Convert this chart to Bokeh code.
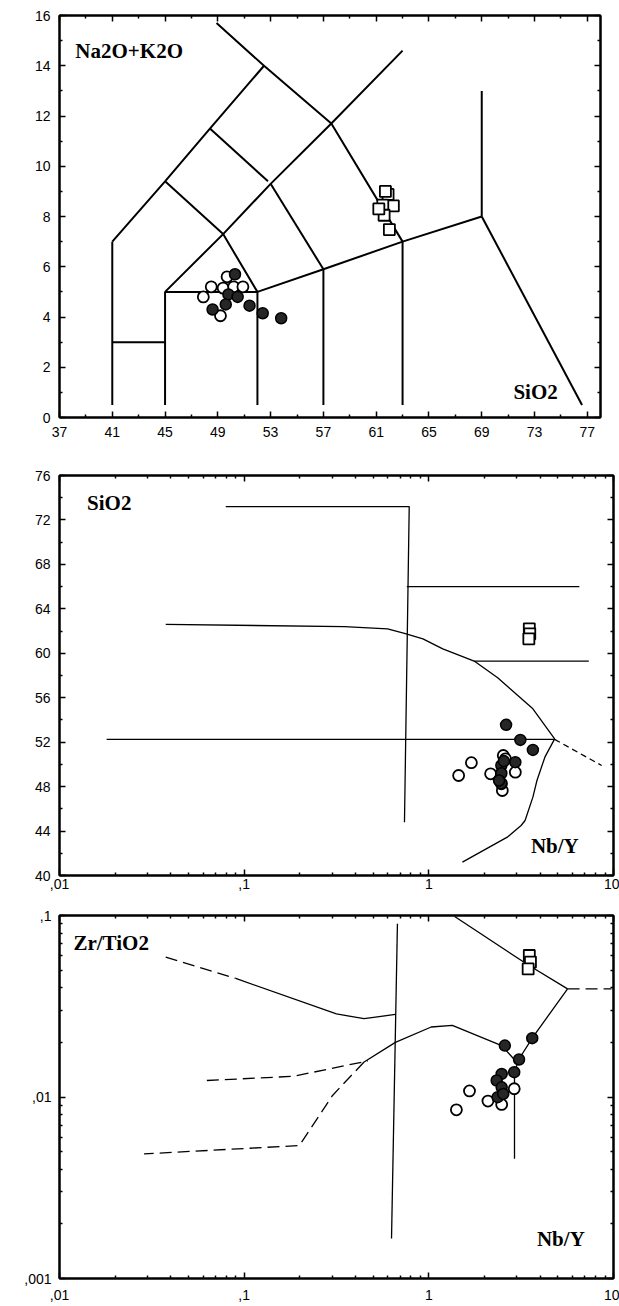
from bokeh.plotting import figure
from bokeh.models import FixedTicker, LinearAxis, LogAxis, CustomJSTickFormatter, Range1d
from bokeh.layouts import column
from bokeh.embed import file_html
from bokeh.resources import INLINE
from bokeh.core.properties import value

# ---------------- Panel 1: TAS diagram ----------------
tas_lines_x = [
    [41, 41], [41, 45], [45, 45, 52, 52], [57, 57], [63, 63],
    [52, 57, 63, 69], [69, 69], [69, 76.6],
    [41, 45, 48.4, 52.5], [45, 49.4, 53, 57.6, 63],
    [45, 49.4, 52], [48.4, 52.8], [53, 57], [48.9, 52.5, 57.6, 63],
]
tas_lines_y = [
    [0.5, 7], [3, 3], [0.5, 5, 5, 0.5], [0.5, 5.9], [0.5, 7],
    [5, 5.9, 7, 8], [8, 13], [8, 0.5],
    [7, 9.4, 11.5, 14], [5, 7.3, 9.3, 11.7, 14.6],
    [9.4, 7.3, 5], [11.5, 9.4], [9.3, 5.9], [15.7, 14, 11.7, 7],
]
p1_open_x = [47.9, 48.5, 49.4, 49.7, 50.2, 50.9, 49.2]
p1_open_y = [4.8, 5.2, 5.15, 5.6, 5.2, 5.2, 4.05]
p1_fill_x = [50.3, 49.8, 50.5, 49.6, 48.6, 51.4, 52.4, 53.8]
p1_fill_y = [5.7, 4.9, 4.8, 4.5, 4.3, 4.45, 4.15, 3.95]
p1_sq_x = [61.9, 62.3, 61.5, 61.6, 62.0, 61.2, 61.7]
p1_sq_y = [8.88, 8.42, 8.45, 8.05, 7.48, 8.3, 9.0]
p1_xticks = [37, 41, 45, 49, 53, 57, 61, 65, 69, 73, 77]
p1_xminor = [39, 43, 47, 51, 55, 59, 63, 67, 71, 75]
p1_yticks = [0, 2, 4, 6, 8, 10, 12, 14, 16]
p1_yminor = [1, 3, 5, 7, 9, 11, 13, 15]
p1_text = ["Na2O+K2O", "SiO2"]
p1_text_x = [38.2, 71.4]
p1_text_y = [14.6, 1.0]

# ---------------- Panel 2: SiO2 vs Nb/Y ----------------
p2_lines_x = [
    [0.0795, 0.783, 0.738],
    [0.76, 6.53],
    [1.76, 7.35],
    [0.0376, 0.349, 0.598, 0.738, 0.929, 1.19, 1.76, 2.36, 3.66, 4.8,
     4.25, 3.85, 3.66, 3.32, 3.16, 2.66, 1.52],
    [0.018, 4.8],
]
p2_lines_y = [
    [73.2, 73.2, 44.8],
    [66, 66],
    [59.3, 59.3],
    [62.6, 62.4, 62.2, 61.8, 61.3, 60.4, 59.3, 57.8, 55.0, 52.3,
     50.65, 48.55, 47.05, 44.95, 44.5, 43.45, 41.2],
    [52.25, 52.25],
]
p2_dash_x = [[4.8, 8.63]]
p2_dash_y = [[52.25, 49.9]]
p2_open_x = [1.45, 1.70, 2.16, 2.53, 2.94, 2.5, 2.47, 2.6]
p2_open_y = [49.0, 50.15, 49.15, 50.8, 49.3, 47.65, 48.25, 50.5]
p2_fill_x = [2.62, 3.13, 3.66, 2.94, 2.47, 2.47, 2.47, 2.4, 2.55]
p2_fill_y = [53.56, 52.2, 51.3, 50.2, 49.9, 49.2, 48.3, 48.55, 50.3]
p2_sq_x = [3.5, 3.52, 3.48]
p2_sq_y = [62.2, 61.75, 61.3]
log_xticks = [0.01, 0.1, 1, 10]
log_xlabels = [",01", ",1", "1", "10"]
p2_yticks = [40, 44, 48, 52, 56, 60, 64, 68, 72, 76]
p2_yminor = [42, 46, 50, 54, 58, 62, 66, 70, 74]
p2_text = ["SiO2", "Nb/Y"]
p2_text_x = [0.0141, 3.57]
p2_text_y = [73.57, 42.7]

# ---------------- Panel 3: Zr/TiO2 vs Nb/Y ----------------
p3_lines_x = [
    [0.676, 0.628],
    [1.38, 3.49, 5.64],
    [5.64, 3.66, 3.08, 2.91, 2.91],
    [2.95, 2.48, 1.34, 1.03, 0.659, 0.446],
    [0.09, 0.316, 0.446, 0.659],
]
p3_lines_y = [
    [0.09, 0.00166],
    [0.0987, 0.053, 0.0394],
    [0.0394, 0.0214, 0.0162, 0.0137, 0.00457],
    [0.0158, 0.0192, 0.0248, 0.0243, 0.0200, 0.0156],
    [0.0450, 0.0287, 0.0270, 0.0285],
]
p3_dash_x = [
    [5.64, 9.75],
    [0.446, 0.301, 0.199, 0.0287],
    [0.0628, 0.1845, 0.468],
    [0.0376, 0.09],
]
p3_dash_y = [
    [0.0394, 0.0394],
    [0.0156, 0.0102, 0.0054, 0.00486],
    [0.01233, 0.0130, 0.0158],
    [0.0589, 0.0450],
]
p3_open_x = [1.41, 1.66, 2.09, 2.48, 2.9]
p3_open_y = [0.0085, 0.0108, 0.0095, 0.0091, 0.0111]
p3_fill_x = [2.58, 3.08, 3.63, 2.9, 2.48, 2.33, 2.48, 2.36, 2.53]
p3_fill_y = [0.0192, 0.0161, 0.0211, 0.0137, 0.0134, 0.01233, 0.0113, 0.00998, 0.0104]
p3_sq_x = [3.5, 3.55, 3.45]
p3_sq_y = [0.0602, 0.0554, 0.0508]
log_yticks = [0.001, 0.01, 0.1]
log_ylabels = [",001", ",01", ",1"]
p3_text = ["Zr/TiO2", "Nb/Y"]
p3_text_x = [0.0119, 3.85]
p3_text_y = [0.0702, 0.00166]

TICK_FONT = "Liberation Sans"
TEXT_FONT = "Liberation Serif"


def log_minor(decades):
    return [m * d for d in decades for m in range(2, 10)]


def fixed_fmt(tv, lb):
    return CustomJSTickFormatter(
        args=dict(tvals=list(tv), tlabs=list(lb)),
        code="for (let i = 0; i < tvals.length; i++) {"
             " if (Math.abs(tvals[i] - tick) <= 1e-6 * Math.abs(tvals[i])) return tlabs[i]; }"
             " return '';")


def style_axis(ax, standoff, show_labels=True):
    ax.axis_line_color = "black"
    ax.axis_line_width = 2
    ax.major_tick_in = 6
    ax.major_tick_out = 0
    ax.minor_tick_in = 3
    ax.minor_tick_out = 0
    ax.major_tick_line_color = "black"
    ax.minor_tick_line_color = "black"
    ax.major_tick_line_width = 1.5
    ax.minor_tick_line_width = 1.5
    ax.major_label_text_font = TICK_FONT
    ax.major_label_text_color = "black"
    if show_labels:
        ax.major_label_text_font_size = "14px"
        ax.major_label_standoff = standoff
    else:
        ax.formatter = CustomJSTickFormatter(code="return '';")
        ax.major_label_text_font_size = "1px"
        ax.major_label_standoff = 0


def make_fig(fw, fh, xr, yr, xlog, ylog, borders, xt, xm, yt, ym, xfmt, yfmt, xstand, ystand):
    p = figure(frame_width=fw, frame_height=fh, x_range=xr, y_range=yr,
               x_axis_type="log" if xlog else "linear",
               y_axis_type="log" if ylog else "linear",
               output_backend="svg", toolbar_location=None,
               min_border_left=borders[0], min_border_right=borders[1],
               min_border_top=borders[2], min_border_bottom=borders[3],
               background_fill_color="white", border_fill_color="white")
    p.grid.visible = False
    p.outline_line_color = "black"
    p.outline_line_width = 2
    p.xaxis[0].ticker = FixedTicker(ticks=xt, minor_ticks=xm)
    p.yaxis[0].ticker = FixedTicker(ticks=yt, minor_ticks=ym)
    if xfmt is not None:
        p.xaxis[0].formatter = xfmt
    if yfmt is not None:
        p.yaxis[0].formatter = yfmt
    style_axis(p.xaxis[0], xstand)
    style_axis(p.yaxis[0], ystand)
    AX = LogAxis if xlog else LinearAxis
    AY = LogAxis if ylog else LinearAxis
    top = AX(ticker=FixedTicker(ticks=xt, minor_ticks=xm))
    style_axis(top, 0, False)
    p.add_layout(top, "above")
    right = AY(ticker=FixedTicker(ticks=yt, minor_ticks=ym))
    style_axis(right, 0, False)
    p.add_layout(right, "right")
    return p


def add_text(p, xs, ys, txt):
    p.text(x=xs, y=ys, text=txt, text_font=value(TEXT_FONT), text_font_style="bold",
           text_font_size="21px", text_baseline="middle", text_align="left", text_color="black")


def add_points(p, ox, oy, fx, fy, sx, sy, size):
    p.scatter(sx, sy, marker="square", size=size, fill_color="white",
              line_color="black", line_width=1.8)
    p.scatter(ox, oy, marker="circle", size=size, fill_color="white",
              line_color="black", line_width=1.8)
    p.scatter(fx, fy, marker="circle", size=size, fill_color="#262626",
              line_color="black", line_width=1.5)


# Panel 1
p1 = make_fig(541, 402, Range1d(37, 78), Range1d(0, 16), False, False,
              (59, 19, 15, 30), p1_xticks, p1_xminor, p1_yticks, p1_yminor,
              None, None, 9, 9)
p1.multi_line(tas_lines_x, tas_lines_y, line_color="black", line_width=2)
add_points(p1, p1_open_x, p1_open_y, p1_fill_x, p1_fill_y, p1_sq_x, p1_sq_y, 11)
add_text(p1, p1_text_x, p1_text_y, p1_text)

# Panel 2
p2 = make_fig(554, 400, Range1d(0.01, 10), Range1d(40, 76), True, False,
              (51, 14, 28, 22), log_xticks, log_minor([0.01, 0.1, 1]),
              p2_yticks, p2_yminor, fixed_fmt(log_xticks, log_xlabels), None, 3, 9)
p2.multi_line(p2_lines_x, p2_lines_y, line_color="black", line_width=1.3)
p2.multi_line(p2_dash_x, p2_dash_y, line_color="black", line_width=1.3, line_dash="6 4")
add_points(p2, p2_open_x, p2_open_y, p2_fill_x, p2_fill_y, p2_sq_x, p2_sq_y, 11)
add_text(p2, p2_text_x, p2_text_y, p2_text)

# Panel 3
p3 = make_fig(554, 363, Range1d(0.01, 10), Range1d(0.001, 0.1), True, True,
              (51, 14, 18, 28), log_xticks, log_minor([0.01, 0.1, 1]),
              log_yticks, log_minor([0.001, 0.01]),
              fixed_fmt(log_xticks, log_xlabels), fixed_fmt(log_yticks, log_ylabels), 11, 8)
p3.multi_line(p3_lines_x, p3_lines_y, line_color="black", line_width=1.3)
p3.multi_line(p3_dash_x, p3_dash_y, line_color="black", line_width=1.3, line_dash="12 6")
add_points(p3, p3_open_x, p3_open_y, p3_fill_x, p3_fill_y, p3_sq_x, p3_sq_y, 11)
add_text(p3, p3_text_x, p3_text_y, p3_text)

layout = column(p1, p2, p3)
open("out.html", "w").write(file_html(layout, INLINE))
